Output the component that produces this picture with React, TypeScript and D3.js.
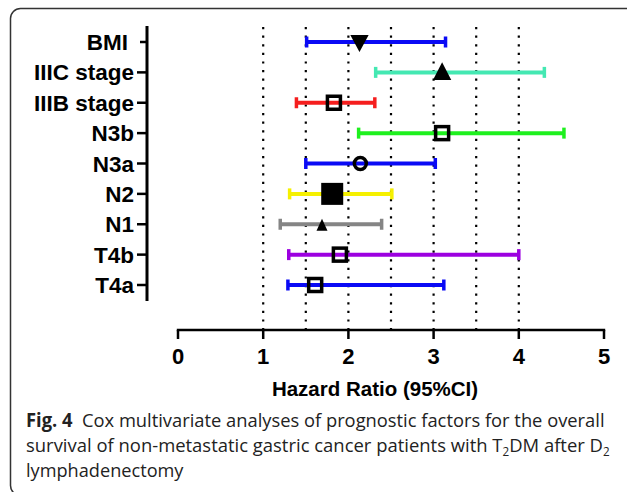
import React, { useLayoutEffect, useRef, useState } from "react";
import * as d3 from "d3";

const width = 627;
const height = 492;

// categories top to bottom
const labels = ["BMI", "IIIC stage", "IIIB stage", "N3b", "N3a", "N2", "N1", "T4b", "T4a"];
const hr = [2.13, 3.1, 1.83, 3.1, 2.14, 1.81, 1.69, 1.9, 1.61];
const lower = [1.51, 2.32, 1.39, 2.12, 1.5, 1.31, 1.2, 1.3, 1.29];
const upper = [3.14, 4.3, 2.31, 4.53, 3.02, 2.51, 2.39, 4.0, 3.12];
const colors = ["#0a0af5", "#44e8b2", "#f51e1e", "#1ef01e", "#0a0af5", "#f5f000", "#858585", "#9c00e0", "#0a0af5"];
const markers = ["triDown", "triUp", "square", "square", "circle", "bigSquare", "smallTri", "square", "square"];
const xTicks = [0, 1, 2, 3, 4, 5];
const gridVals = [1, 1.5, 2, 2.5, 3, 3.5, 4];
const captionWidths = [579, 584, 158];

const x = d3.scaleLinear().domain([0, 5]).range([178, 604]);
const y = d3.scalePoint<string>().domain(labels).range([42, 285]);

const labelFont = "'Liberation Sans', Arial, sans-serif";
const capFont = "'Open Sans', 'Noto Sans', sans-serif";

function Marker({ kind, cx, cy }: { kind: string; cx: number; cy: number }) {
  if (kind === "triDown") {
    const p = d3.path();
    p.moveTo(cx - 7.5, cy - 6);
    p.lineTo(cx + 7.5, cy - 6);
    p.lineTo(cx, cy + 8);
    p.closePath();
    return <path d={p.toString()} fill="#000" stroke="#000" strokeWidth={2} />;
  }
  if (kind === "triUp") {
    const p = d3.path();
    p.moveTo(cx, cy - 8);
    p.lineTo(cx + 7.5, cy + 6.5);
    p.lineTo(cx - 7.5, cy + 6.5);
    p.closePath();
    return <path d={p.toString()} fill="#000" stroke="#000" strokeWidth={2} />;
  }
  if (kind === "smallTri") {
    const p = d3.path();
    p.moveTo(cx, cy - 5.5);
    p.lineTo(cx + 5.5, cy + 6.5);
    p.lineTo(cx - 5.5, cy + 6.5);
    p.closePath();
    return <path d={p.toString()} fill="#000" />;
  }
  if (kind === "circle") {
    return <circle cx={cx} cy={cy} r={6} fill="none" stroke="#000" strokeWidth={3.5} />;
  }
  if (kind === "bigSquare") {
    return <rect x={cx - 11} y={cy - 11} width={22} height={22} fill="#000" />;
  }
  return <rect x={cx - 6.5} y={cy - 6.5} width={13} height={13} fill="none" stroke="#000" strokeWidth={3.5} />;
}

export default function App() {
  const capRefs = useRef<(SVGTextElement | null)[]>([]);
  const [scales, setScales] = useState([1, 1, 1]);

  useLayoutEffect(() => {
    const s = capRefs.current.map((el, i) => {
      if (!el) return 1;
      const w = el.getBBox().width;
      return w > 0 ? captionWidths[i] / w : 1;
    });
    setScales(s);
  }, []);

  return (
    <div style={{ position: "absolute", left: 0, top: 0 }}>
      <svg width={width} height={height} style={{ display: "block", background: "#fff" }}>
        <rect x={10.5} y={8.5} width={625} height={487} rx={10} fill="none" stroke="#333" strokeWidth={1.5} />

        {gridVals.map(v => (
          <line key={v} x1={x(v)} x2={x(v)} y1={27} y2={329} stroke="#000" strokeWidth={2.2}
            strokeDasharray="2.2 6.4" />
        ))}

        {/* y axis */}
        <line x1={147} x2={147} y1={26} y2={301} stroke="#000" strokeWidth={3} />
        {labels.map(l => (
          <g key={l}>
            <line x1={l === "BMI" ? 140 : 137} x2={147} y1={y(l)} y2={y(l)} stroke="#000" strokeWidth={2.5} />
            <text x={l === "BMI" ? 128 : 134} y={(y(l) as number) + 8} textAnchor="end"
              fontFamily={labelFont} fontWeight="bold" fontSize={22.5} fill="#000">{l}</text>
          </g>
        ))}

        {/* x axis */}
        <line x1={x(0) - 1.2} x2={x(5) + 1.2} y1={330} y2={330} stroke="#000" strokeWidth={2.5} />
        {xTicks.map(t => (
          <g key={t}>
            <line x1={x(t)} x2={x(t)} y1={330} y2={339} stroke="#000" strokeWidth={2.5} />
            <text x={x(t)} y={364} textAnchor="middle" fontFamily={labelFont} fontWeight="bold"
              fontSize={22} fill="#000">{t}</text>
          </g>
        ))}
        <text x={375} y={396} textAnchor="middle" fontFamily={labelFont} fontWeight="bold" fontSize={20.5}
          fill="#000">Hazard Ratio (95%CI)</text>

        {/* error bars */}
        {labels.map((l, i) => {
          const cy = y(l) as number;
          return (
            <g key={l}>
              <line x1={x(lower[i])} x2={x(upper[i])} y1={cy} y2={cy} stroke={colors[i]} strokeWidth={4} />
              <line x1={x(lower[i])} x2={x(lower[i])} y1={cy - 5.5} y2={cy + 5.5} stroke={colors[i]} strokeWidth={3.5} />
              <line x1={x(upper[i])} x2={x(upper[i])} y1={cy - 5.5} y2={cy + 5.5} stroke={colors[i]} strokeWidth={3.5} />
              <Marker kind={markers[i]} cx={x(hr[i])} cy={cy} />
            </g>
          );
        })}

        {/* caption */}
        <g transform={`translate(26,427) scale(${scales[0]},1)`}>
          <text ref={el => { capRefs.current[0] = el; }} fontFamily={capFont} fontSize={19} fill="#222">
            <tspan fontWeight="bold">Fig. 4</tspan>
            <tspan>{"\u00a0\u00a0Cox multivariate analyses of prognostic factors for the overall"}</tspan>
          </text>
        </g>
        <g transform={`translate(26,452) scale(${scales[1]},1)`}>
          <text ref={el => { capRefs.current[1] = el; }} fontFamily={capFont} fontSize={19} fill="#222">
            {"survival of non-metastatic gastric cancer patients with T"}
            <tspan fontSize={12} dy={4}>2</tspan>
            <tspan dy={-4}>{"DM after D"}</tspan>
            <tspan fontSize={12} dy={4}>2</tspan>
          </text>
        </g>
        <g transform={`translate(26,477) scale(${scales[2]},1)`}>
          <text ref={el => { capRefs.current[2] = el; }} fontFamily={capFont} fontSize={19} fill="#222">
            lymphadenectomy
          </text>
        </g>
      </svg>
    </div>
  );
}
